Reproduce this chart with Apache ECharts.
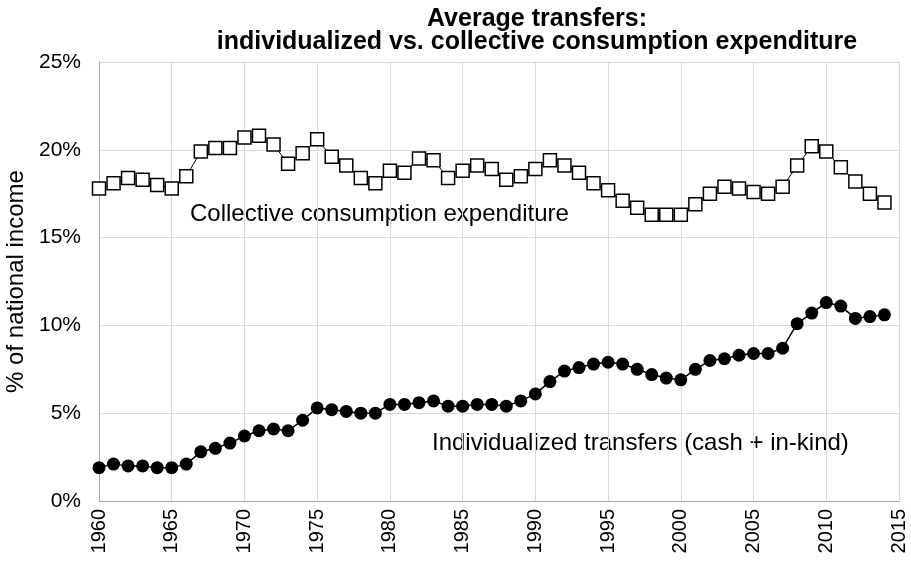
<!DOCTYPE html>
<html>
<head>
<meta charset="utf-8">
<script src="https://cdn.jsdelivr.net/npm/echarts@6/dist/echarts.min.js"></script>
<style>
html,body{margin:0;padding:0;background:#fff;}
#chart{width:911px;height:562px;}
</style>
</head>
<body>
<div id="chart"></div>
<script>
var years = [1960,1961,1962,1963,1964,1965,1966,1967,1968,1969,1970,1971,1972,1973,1974,1975,1976,1977,1978,1979,1980,1981,1982,1983,1984,1985,1986,1987,1988,1989,1990,1991,1992,1993,1994,1995,1996,1997,1998,1999,2000,2001,2002,2003,2004,2005,2006,2007,2008,2009,2010,2011,2012,2013,2014];
var collective = [17.8,18.1,18.4,18.3,18.0,17.8,18.5,19.9,20.1,20.1,20.7,20.8,20.3,19.2,19.8,20.6,19.6,19.1,18.4,18.1,18.8,18.7,19.5,19.4,18.4,18.8,19.1,18.9,18.3,18.5,18.9,19.4,19.1,18.7,18.1,17.7,17.1,16.7,16.3,16.3,16.3,16.9,17.5,17.9,17.8,17.6,17.5,17.9,19.1,20.2,19.9,19.0,18.2,17.5,17.0];
var individualized = [1.9,2.1,2.0,2.0,1.9,1.9,2.1,2.8,3.0,3.3,3.7,4.0,4.1,4.0,4.6,5.3,5.2,5.1,5.0,5.0,5.5,5.5,5.6,5.7,5.4,5.4,5.5,5.5,5.4,5.7,6.1,6.8,7.4,7.6,7.8,7.9,7.8,7.5,7.2,7.0,6.9,7.5,8.0,8.1,8.3,8.4,8.4,8.7,10.1,10.7,11.3,11.1,10.4,10.5,10.6];
var yTicks = [0,5,10,15,20,25];
var titleLines = ['Average transfers:', 'individualized vs. collective consumption expenditure'];
var yAxisName = '% of national income';
var collectiveLabel = 'Collective consumption expenditure';
var individualLabel = 'Individualized transfers (cash + in-kind)';

function pairs(vals){ return years.map(function(y,i){ return [y, vals[i]]; }); }

var FONT = 'Liberation Sans, Arial, sans-serif';
var chart = echarts.init(document.getElementById('chart'));
chart.setOption({
  animation:false,
  backgroundColor:'#ffffff',
  title:{
    text: titleLines.join('\n'),
    left: 532, top: 3, textAlign:'center',
    textStyle:{fontFamily:FONT, fontWeight:'bold', fontSize:25, color:'#000', lineHeight:23}
  },
  grid:{left:99, right:12, top:62, bottom:61, containLabel:false, outerBoundsMode:'none'},
  xAxis:{
    type:'value', min:1960, max:2015, interval:5,
    axisLine:{show:true, lineStyle:{color:'#a6a6a6', width:1}},
    axisTick:{show:false},
    splitLine:{show:true, lineStyle:{color:'#d9d9d9', width:1}},
    axisLabel:{rotate:90, margin:8, fontFamily:FONT, fontSize:20, color:'#000', formatter:function(v){return String(v);}}
  },
  yAxis:{
    type:'value', min:yTicks[0], max:yTicks[yTicks.length-1], interval:5,
    name:yAxisName, nameLocation:'middle', nameGap:67, nameRotate:90,
    nameTextStyle:{fontFamily:FONT, fontSize:24, color:'#000'},
    axisLine:{show:true, lineStyle:{color:'#a6a6a6', width:1}},
    axisTick:{show:false},
    splitLine:{show:true, lineStyle:{color:'#d9d9d9', width:1}},
    axisLabel:{margin:18, fontFamily:FONT, fontSize:21, color:'#000', formatter:'{value}%'}
  },
  series:[
    {
      name:collectiveLabel, type:'line', data:pairs(collective),
      symbol:'rect', symbolSize:13,
      lineStyle:{color:'#000', width:1},
      itemStyle:{color:'#ffffff', borderColor:'#000', borderWidth:1.5},
      z:3
    },
    {
      name:individualLabel, type:'line', data:pairs(individualized),
      symbol:'circle', symbolSize:13,
      lineStyle:{color:'#000', width:1.5},
      itemStyle:{color:'#000', borderColor:'#000', borderWidth:0},
      z:3
    }
  ],
  graphic:[
    {type:'text', left:190, top:202, style:{text:collectiveLabel, font:'24px Liberation Sans, Arial, sans-serif', fill:'#000'}},
    {type:'text', left:432, top:431, style:{text:individualLabel, font:'24px Liberation Sans, Arial, sans-serif', fill:'#000'}}
  ]
});
</script>
</body>
</html>
